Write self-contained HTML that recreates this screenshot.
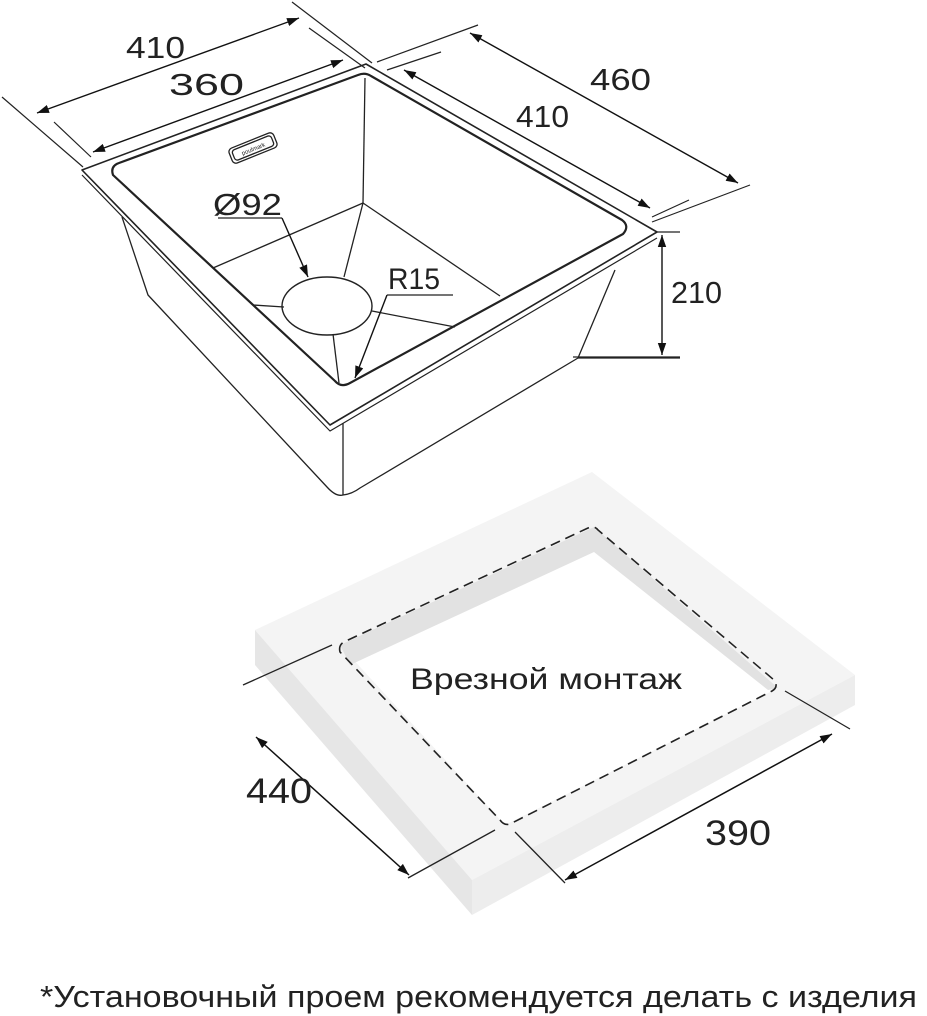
<!DOCTYPE html>
<html><head><meta charset="utf-8"><style>
html,body{margin:0;padding:0;background:#fff;}
svg{display:block;}
text{font-family:"Liberation Sans",sans-serif;fill:#222;}
</style></head><body>
<svg width="927" height="1016" viewBox="0 0 927 1016" xmlns="http://www.w3.org/2000/svg">
<defs>
<marker id="a" viewBox="0 0 10 10" refX="10" refY="5" markerWidth="12" markerHeight="12" markerUnits="userSpaceOnUse" orient="auto-start-reverse">
<path d="M0,1.5 L10,5 L0,8.5 z" fill="#111"/></marker>
</defs>

<!-- Countertop -->
<polygon points="255,630 592,472 855,675 472,880" fill="#f4f4f4"/>
<polygon points="255,630 472,880 472,915 255,665" fill="#e6e6e6"/>
<polygon points="472,880 855,675 855,705 472,915" fill="#ededed"/>
<!-- cutout -->
<polygon points="340,645 594,527 778,688 505,825" fill="#fff"/>
<polygon points="340,645 594,527 594,552 350,665" fill="#e2e2e2"/>
<polygon points="594,527 778,688 768,690 594,552" fill="#e2e2e2"/>
<path d="M340,652 Q338,644 346,641 L588,528 Q594,525 598,530 L774,680 Q779,687 772,691 L512,823 Q505,827 500,820 Z" fill="none" stroke="#222" stroke-width="1.6" stroke-dasharray="10,6"/>
<text x="410" y="689" font-size="30" textLength="272" lengthAdjust="spacingAndGlyphs">Врезной монтаж</text>
<!-- 440 -->
<line x1="243" y1="685" x2="332" y2="645" stroke="#222" stroke-width="1.3"/>
<line x1="408" y1="878" x2="495" y2="830" stroke="#222" stroke-width="1.3"/>
<line x1="256" y1="737" x2="409" y2="875" stroke="#111" stroke-width="1.5" marker-start="url(#a)" marker-end="url(#a)"/>
<text x="246" y="803" font-size="35" textLength="66" lengthAdjust="spacingAndGlyphs">440</text>
<!-- 390 -->
<line x1="785" y1="691" x2="850" y2="729" stroke="#222" stroke-width="1.3"/>
<line x1="515" y1="832" x2="565" y2="883" stroke="#222" stroke-width="1.3"/>
<line x1="565" y1="880" x2="832" y2="734" stroke="#111" stroke-width="1.5" marker-start="url(#a)" marker-end="url(#a)"/>
<text x="705" y="845" font-size="35" textLength="66" lengthAdjust="spacingAndGlyphs">390</text>

<!-- Sink body -->
<g fill="none" stroke="#222" stroke-width="1.3" stroke-linejoin="round">
<path d="M122,217 L148,295 L327,487 Q336,497 343,495 Q352,494 360,488 L578,358 L615,270"/>
<line x1="343" y1="423" x2="343" y2="495"/>
<line x1="578" y1="358" x2="680" y2="358"/>
<polygon points="82,170 366,64 657,232 330,425" stroke-width="1.6"/>
<polyline points="82,175 330,431 657,238" stroke-width="1.2"/>
<path d="M113,175 Q110,166 119,163 L358,75 Q365,72 371,76 L622,220 Q630,226 623,234 L350,383 Q341,388 335,381 Z" stroke-width="2.2"/>
<line x1="365" y1="78" x2="363" y2="203"/>
<line x1="363" y1="203" x2="213" y2="268"/>
<line x1="363" y1="203" x2="500" y2="296"/>
<line x1="363" y1="203" x2="344" y2="277"/>
<line x1="284" y1="307" x2="253" y2="305"/>
<line x1="372" y1="311" x2="455" y2="327"/>
<line x1="333" y1="334" x2="339" y2="383"/>
<ellipse cx="327" cy="306" rx="45" ry="29" stroke-width="1.4"/>
<g transform="translate(253,148) rotate(-22)"><rect x="-24" y="-8" width="48" height="16" rx="4"/><rect x="-21" y="-5.5" width="42" height="11" rx="3"/></g>
</g>
<text x="253" y="151" font-size="6" text-anchor="middle" transform="rotate(-22 253 148)">poulmark</text>

<!-- Dimensions top -->
<g stroke="#222" stroke-width="1.2">
<line x1="2" y1="97" x2="83" y2="167"/>
<line x1="292" y1="2" x2="372" y2="63"/>
<line x1="54" y1="122" x2="91" y2="157"/>
<line x1="309" y1="28" x2="365" y2="68"/>
<line x1="478" y1="25" x2="377" y2="62"/>
<line x1="750" y1="185" x2="652" y2="222"/>
<line x1="441" y1="52" x2="387" y2="70"/>
<line x1="689" y1="200" x2="652" y2="217"/>
<line x1="657" y1="232" x2="680" y2="232"/>
<line x1="573" y1="357" x2="680" y2="357"/>
<line x1="218" y1="218" x2="282" y2="218"/>
<line x1="387" y1="295" x2="453" y2="295"/>
</g>
<g stroke="#111" stroke-width="1.4">
<line x1="37" y1="113" x2="299" y2="18" marker-start="url(#a)" marker-end="url(#a)"/>
<line x1="93" y1="152" x2="343" y2="60" marker-start="url(#a)" marker-end="url(#a)"/>
<line x1="470" y1="33" x2="738" y2="183" marker-start="url(#a)" marker-end="url(#a)"/>
<line x1="404" y1="70" x2="650" y2="208" marker-start="url(#a)" marker-end="url(#a)"/>
<line x1="662" y1="235" x2="662" y2="355" marker-start="url(#a)" marker-end="url(#a)"/>
<line x1="282" y1="218" x2="308" y2="277" marker-end="url(#a)"/>
<line x1="387" y1="295" x2="355" y2="378" marker-end="url(#a)"/>
</g>
<text x="126" y="58" font-size="31" textLength="59" lengthAdjust="spacingAndGlyphs">410</text>
<text x="169" y="95" font-size="31" textLength="75" lengthAdjust="spacingAndGlyphs">360</text>
<text x="590" y="90" font-size="31" textLength="61" lengthAdjust="spacingAndGlyphs">460</text>
<text x="516" y="127" font-size="31" textLength="53" lengthAdjust="spacingAndGlyphs">410</text>
<text x="671" y="303" font-size="31" textLength="51" lengthAdjust="spacingAndGlyphs">210</text>
<text x="213" y="215" font-size="31" textLength="69" lengthAdjust="spacingAndGlyphs">Ø92</text>
<text x="388" y="289" font-size="30" textLength="52" lengthAdjust="spacingAndGlyphs">R15</text>

<text x="40" y="1007" font-size="31" textLength="877" lengthAdjust="spacingAndGlyphs">*Установочный проем рекомендуется делать с изделия</text>
</svg>
</body></html>
